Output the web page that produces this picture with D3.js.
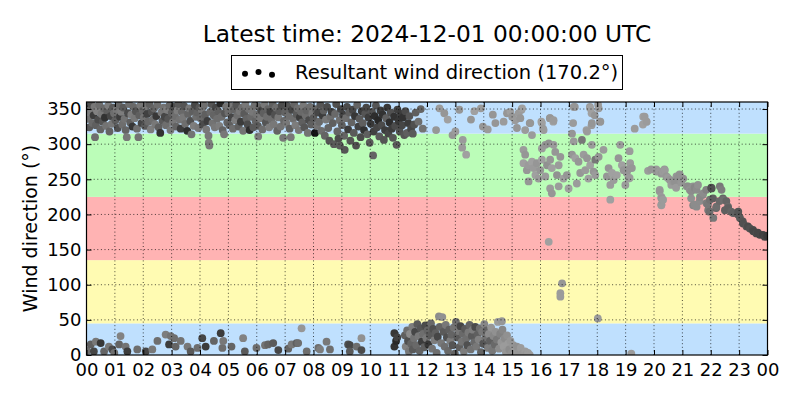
<!DOCTYPE html>
<head>
<meta charset="utf-8">
<title>Resultant wind direction</title>
<script src="https://d3js.org/d3.v7.min.js"></script>
<style>
body { margin: 0; background: #fff; }
text { font-family: "DejaVu Sans", sans-serif; fill: #000; }
.grid line { stroke: #000; stroke-width: 0.7; stroke-dasharray: 1,2.6; }
.axis text { font-size: 18px; }
.axis line { stroke: #000; stroke-width: 1; }
.axis path { display: none; }
</style>
</head>
<body>
<div id="container"></div>
<script>
//--------------------------- DATA ---------------------------//
// each point: [hour of day (UTC), direction in degrees, grey level]
const titleText = "Latest time: 2024-12-01 00:00:00 UTC";
const legendText = "Resultant wind direction (170.2°)";
const dayStart = "2024-11-30T00:00:00Z";
const dayEnd = "2024-12-01T00:00:00Z";
const yTicks = [0, 50, 100, 150, 200, 250, 300, 350];

// sector bands (from, to, colour)
const bandFrom = [0, 45, 135, 225, 315];
const bandTo = [45, 135, 225, 315, 360];
const bandColor = ["#bfe0fe", "#fffbb2", "#ffb3b3", "#bbfdb8", "#bfe0fe"];

const nightHigh = [
[0.03,350,100],[0.07,336,115],[0.1,324,90],[0.14,345,125],[0.17,357,80],[0.21,330,105],[0.25,341,60],[0.28,353,120],[0.3,310,110],[0.33,327,95],[0.37,347,130],[0.41,335,75],[0.45,356,110],[0.49,321,100],[0.53,343,120],[0.57,332,85],[0.61,351,105],[0.65,338,50],[0.69,326,115],[0.73,348,95],[0.77,355,125],[0.81,318,100],[0.85,340,70],[0.89,329,120],[0.93,352,90],[0.97,344,110],
[1.02,334,95],[1.06,349,120],[1.1,323,80],[1.14,356,105],[1.18,339,60],[1.22,346,125],[1.26,328,110],[1.3,352,90],[1.34,336,115],[1.38,320,100],[1.42,310,120],[1.46,344,75],[1.5,357,110],[1.54,331,95],[1.58,342,125],[1.62,325,55],[1.66,353,105],[1.7,337,120],[1.74,347,85],[1.78,322,110],[1.83,310,115],[1.86,341,95],[1.9,355,120],[1.94,330,70],[1.98,348,105],
[2.02,338,115],[2.06,326,90],[2.1,354,120],[2.14,343,65],[2.18,332,105],[2.22,357,95],[2.26,321,125],[2.3,346,80],[2.34,335,110],[2.38,351,100],[2.42,328,120],[2.46,340,55],[2.5,356,110],[2.54,324,95],[2.6,316,50],[2.64,345,120],[2.68,333,90],[2.72,352,115],[2.76,339,70],[2.8,327,110],[2.84,349,125],[2.88,336,85],[2.92,355,105],[2.96,320,120],
[3.0,344,95],[3.04,331,120],[3.08,353,75],[3.12,340,110],[3.16,325,100],[3.2,348,125],[3.24,357,90],[3.28,335,115],[3.32,322,60],[3.36,346,105],[3.4,338,120],[3.44,354,85],[3.48,329,110],[3.55,319,45],[3.58,343,100],[3.62,351,120],[3.66,333,80],[3.7,314,115],[3.74,347,95],[3.78,326,125],[3.82,356,70],[3.86,339,110],[3.9,345,100],[3.94,323,120],[3.98,352,85],
[4.02,337,105],[4.06,349,120],[4.1,328,75],[4.14,355,110],[4.18,342,95],[4.22,321,120],[4.26,333,60],[4.3,312,120],[4.31,302,125],[4.33,298,120],[4.36,346,105],[4.4,357,85],[4.44,330,115],[4.48,341,100],[4.52,324,120],[4.56,352,70],[4.6,336,110],[4.64,347,95],[4.68,326,125],[4.72,358,40],[4.76,339,110],[4.8,320,100],[4.85,314,120],[4.88,344,85],[4.92,353,115],[4.96,331,100],
[5.0,345,110],[5.04,327,95],[5.08,354,120],[5.12,338,70],[5.16,322,110],[5.2,349,100],[5.24,334,125],[5.28,356,85],[5.32,341,110],[5.36,325,95],[5.4,347,120],[5.44,332,60],[5.48,352,110],[5.52,319,115],[5.56,343,90],[5.6,357,120],[5.64,336,100],[5.68,328,75],[5.72,350,115],[5.75,320,45],[5.8,339,105],[5.84,346,120],[5.88,324,90],[5.92,355,110],[5.96,333,100],
[6.0,342,115],[6.04,326,90],[6.05,311,125],[6.08,353,105],[6.12,337,120],[6.16,348,70],[6.2,321,110],[6.24,344,95],[6.28,356,120],[6.32,331,85],[6.36,339,110],[6.4,350,100],[6.44,324,125],[6.48,346,65],[6.52,335,110],[6.56,357,95],[6.6,328,120],[6.64,342,80],[6.68,352,110],[6.72,319,100],[6.76,338,120],[6.8,347,90],[6.84,325,115],[6.88,355,75],[6.93,309,120],[6.96,333,105],
[7.0,345,100],[7.04,330,120],[7.08,354,85],[7.12,340,110],[7.16,322,95],[7.2,310,120],[7.24,349,70],[7.28,336,110],[7.32,357,100],[7.36,327,125],[7.4,343,90],[7.44,351,110],[7.48,320,120],[7.52,338,60],[7.56,346,105],[7.6,331,95],[7.64,355,120],[7.68,324,85],[7.72,341,110],[7.76,348,100],[7.8,316,115],[7.84,334,75],[7.88,353,110],[7.92,328,95],[7.96,344,120],
[8.0,337,90],[8.05,316,20],[8.08,350,100],[8.12,326,115],[8.16,345,70],[8.2,332,105],[8.24,356,85],[8.28,319,110],[8.32,341,60],[8.36,348,95],[8.4,312,100],[8.44,335,120],[8.48,353,75],[8.52,323,100],[8.56,305,85],[8.6,339,110],[8.64,346,65],[8.68,330,95],[8.72,300,90],[8.76,343,105],[8.8,357,80],[8.84,318,100],[8.88,308,75],[8.92,334,110],[8.93,298,90],[8.96,350,70],
[9.0,327,95],[9.04,342,65],[9.08,312,100],[9.1,292,85],[9.14,337,110],[9.18,353,75],[9.22,321,60],[9.26,345,95],[9.3,305,85],[9.34,331,100],[9.38,349,70],[9.42,316,90],[9.46,340,55],[9.5,298,80],[9.54,356,100],[9.58,325,65],[9.62,336,90],[9.66,310,75],[9.7,347,60],[9.74,330,95],[9.78,320,50],[9.82,343,85],[9.86,352,70],[9.9,314,95],[9.94,338,60],[9.98,302,90],
[10.02,329,55],[10.06,346,80],[10.1,284,100],[10.12,318,65],[10.16,340,45],[10.2,355,85],[10.24,324,70],[10.28,334,40],[10.32,311,90],[10.36,348,60],[10.4,327,75],[10.44,342,50],[10.48,306,85],[10.52,320,60],[10.56,337,95],[10.6,352,55],[10.64,315,70],[10.68,331,45],[10.72,345,80],[10.76,322,60],[10.8,309,85],[10.84,339,50],[10.88,326,75],[10.93,299,90],[10.96,349,65],
[11.0,333,55],[11.04,318,80],[11.08,343,60],[11.12,327,70],[11.16,338,50],[11.2,313,85],[11.24,347,75],[11.3,316,95],[11.34,330,60],[11.38,340,85],[11.44,322,70],[11.5,315,90],[11.55,328,80],[11.6,345,95],[11.7,332,110],[11.78,350,100],[11.85,322,115]
];

const nightLow = [
[0.02,6,110],[0.15,15,95],[0.26,5,70],[0.33,19,120],[0.5,17,55],[0.62,5,100],[0.79,12,120],[0.91,8,75],[0.98,3,110],
[1.15,15,100],[1.2,27,130],[1.38,12,115],[1.44,5,60],[1.79,8,110],
[2.09,5,70],[2.32,8,120],[2.5,20,110],[2.79,29,125],[2.97,27,115],[3.09,24,110],[2.91,15,60],[3.14,12,100],[3.32,20,115],[3.56,12,120],[3.67,5,90],[3.91,10,110],
[4.08,24,70],[4.2,12,60],[4.49,20,100],[4.73,31,60],[4.79,10,110],[4.82,20,120],[5.11,12,100],[5.52,24,130],[5.58,5,90],[5.99,10,110],
[6.29,14,115],[6.4,15,100],[6.58,17,90],[6.76,7,70],[7.11,9,100],[7.23,15,120],[7.4,17,95],[7.46,17,110],[7.58,38,150],[7.76,5,110],
[8.17,10,110],[8.23,8,125],[8.46,19,120],[8.58,8,110],[9.22,15,80],[9.28,14,70],[9.28,5,90],[9.52,12,110],[9.69,24,145],[9.69,7,75],
[10.85,31,55],[10.91,20,40],[10.85,12,50],[10.95,25,65]
];

const middayHigh = [
[12.32,320,150],[12.44,351,155],[12.61,344,150],[12.73,335,160],[12.9,313,150],[13.0,318,155],[13.14,349,150],[13.26,306,155],[13.38,285,160],[13.24,295,155],[13.55,335,150],[13.67,347,160],[13.9,351,155],[13.97,325,150],[14.14,321,155],[14.32,342,150],
[14.41,330,150],[14.7,332,155],[14.82,344,150],[14.94,346,160],[15.0,339,150],[15.11,334,155],[15.17,323,150],[15.23,344,155],[15.29,337,150],[15.35,351,160],[15.46,320,155],[15.64,330,150],[15.7,313,155],[16.05,330,160],[16.11,320,155],[16.34,337,150],[16.46,334,155],
[15.33,349,155],[15.62,330,150],[16.03,332,160],[16.09,322,155],[16.33,337,150],[16.45,332,160],[17.15,330,155],[17.21,353,150],[17.74,353,155],[17.8,344,160],[17.91,341,150],[18.03,356,155],[18.09,332,150],[17.8,327,155],[17.62,320,160],[17.17,353,155],[17.11,315,150],[17.64,318,155],[17.75,351,160],[17.81,330,150],[18.05,351,155],[18.11,332,150],
[19.32,322,155],[19.62,339,160],[19.74,332,155],[19.61,328,160],[19.67,339,155],[19.73,332,160]
];

const middayLow = [
[11.22,28,95],[11.25,12,130],[11.3,35,110],[11.33,20,80],[11.36,5,120],[11.4,30,140],[11.44,16,100],[11.48,40,125],[11.5,8,90],[11.54,24,115],
[11.58,33,70],[11.62,14,105],[11.66,44,90],[11.7,27,120],[11.74,6,100],[11.78,38,85],[11.82,19,60],[11.86,30,110],[11.9,11,95],[11.94,42,75],[11.98,24,120],
[12.02,35,100],[12.05,15,55],[12.1,28,90],[12.14,45,105],[12.18,9,115],[12.22,37,80],[12.26,21,125],[12.3,31,95],[12.34,3,110],[12.38,26,70],[12.42,55,140],[12.45,40,100],[12.5,17,120],[12.54,54,145],[12.58,33,90],[12.62,12,110],[12.66,43,120],[12.7,25,80],[12.74,6,105],[12.78,36,95],[12.82,20,125],[12.86,29,100],[12.9,14,85],[12.94,39,115],[12.98,2,100],
[13.02,47,110],[13.06,25,90],[13.1,34,120],[13.14,11,95],[13.18,41,70],[13.22,19,115],[13.26,30,105],[13.3,5,125],[13.34,37,90],[13.38,23,110],[13.42,14,80],[13.46,32,120],[13.5,43,100],[13.54,8,115],[13.58,27,90],[13.62,36,125],[13.66,18,105],[13.7,40,75],[13.74,12,120],[13.78,29,95],[13.82,22,130],[13.86,38,110],[13.9,4,100],[13.94,33,120],[13.98,16,85],
[14.02,44,135],[14.06,25,115],[14.1,35,100],[14.14,10,125],[14.18,30,140],[14.22,20,95],[14.26,39,150],[14.3,6,120],[14.34,27,135],[14.38,15,105],[14.42,33,145],[14.46,22,120],[14.5,47,155],[14.54,9,140],[14.58,30,130],[14.62,18,150],[14.64,48,150],[14.66,36,135],[14.7,12,155],[14.74,24,140],[14.78,4,150],[14.82,28,145],[14.86,16,155],[14.9,8,140],[14.94,20,150],[14.98,3,145],
[15.04,14,150],[15.1,6,155],[15.17,12,145],[15.22,3,150],[15.3,10,155],[15.36,2,150],[15.46,5,155],[15.5,1,150],[15.56,3,155],[15.62,0,155],[19.2,2,155]
];

const afternoon = [
[15.4,292,155],[15.46,285,150],[15.4,273,160],[15.58,270,155],[15.52,263,150],[15.7,275,160],[15.76,266,155],[15.87,273,150],[15.82,256,160],[15.93,251,155],[15.58,247,150],
[16.05,294,155],[16.17,299,150],[16.29,301,145],[16.46,299,155],[16.34,278,150],[16.4,266,160],[16.23,270,145],[16.64,270,155],[16.7,282,150],[16.81,251,160],[16.58,256,145],[16.34,237,155],[16.4,230,150],[16.64,240,155],[16.05,278,160],[15.99,263,150],[16.17,254,155],[16.52,289,150],
[17.17,304,155],[17.11,285,150],[17.23,280,160],[17.34,275,150],[17.46,306,120],[17.52,285,155],[17.64,280,150],[17.75,270,160],[17.58,263,155],[17.4,259,150],[17.28,244,155],[16.99,237,160],[16.93,256,150],[17.81,299,155],[17.93,278,120],[17.87,261,150],[17.69,251,160],[17.93,256,155],[18.05,282,150],
[18.22,292,155],[18.4,266,150],[18.52,259,160],[18.58,249,155],[18.75,280,150],[18.81,299,155],[18.87,270,160],[18.93,263,150],[18.99,242,155],[19.04,259,150],[19.1,251,160],[19.16,273,155],[19.22,266,150],[18.46,242,155],[18.34,254,150],[18.69,256,160],
[19.14,290,155],[19.08,264,150],[19.14,252,155],
[18.46,221,160],[16.29,161,160],[16.76,102,150],[16.7,88,155],[16.7,83,155],[18.02,52,155]
];

const evening = [
[19.79,262,155],[19.9,264,150],[20.08,264,155],[20.09,261,150],[20.2,261,155],[20.26,258,150],[20.31,261,155],[20.37,264,150],[20.38,263,155],[20.44,254,150],[20.49,252,155],[20.56,249,150],[20.61,242,155],[20.68,247,150],[20.73,247,145],[20.79,254,150],[20.78,238,155],[20.84,252,145],[20.9,257,150],[20.91,256,145],[20.96,245,150],[21.03,251,145],
[20.2,235,155],[20.2,233,150],[20.26,225,155],[20.26,223,150],[20.32,221,155],[20.26,214,150],[20.26,213,155],
[21.15,240,145],[21.2,240,140],[21.26,235,145],[21.31,233,140],[21.38,240,145],[21.43,238,135],[21.5,235,140],[21.55,242,145],[21.62,225,135],[21.61,219,140],[21.31,223,145],[21.43,214,140],[21.38,213,135],[21.5,211,140],[21.72,228,135],[21.73,230,140],[21.84,235,130],[21.85,216,125],[21.9,214,120],[21.97,221,115],[21.96,204,110],[21.91,206,120],
[22.02,238,75],[22.03,237,80],[22.08,223,95],[22.09,195,120],[22.19,209,100],[22.2,211,110],[22.31,219,105],[22.32,240,120],[22.38,235,125],[22.43,223,100],[22.44,221,110],[22.5,206,95],[22.55,219,100],[22.61,211,105],[22.61,209,95],[22.72,204,100],[22.79,202,95],[22.96,200,90],[22.97,204,85],
[23.03,195,90],[23.13,190,85],[23.14,187,80],[23.26,183,85],[23.31,183,75],[23.38,180,80],[23.49,178,75],[23.5,176,70],[23.61,173,75],[23.66,174,70],[23.73,171,70],[23.84,171,65],[23.91,168,70],[23.96,169,65],[24.0,170,60]
];

//------------------------- SVG SETUP -------------------------//
const width = 800;
const height = 400;
const plot = { left: 86.5, right: 767.5, top: 102, bottom: 355 };

const svg = d3.select("#container").append("svg")
    .attr("width", width)
    .attr("height", height);

const t0 = new Date(dayStart);
const t1 = new Date(dayEnd);
const xScale = d3.scaleUtc().domain([t0, t1]).range([plot.left, plot.right]);
const yScale = d3.scaleLinear().domain([0, 360]).range([plot.bottom, plot.top]);
const hourToDate = h => new Date(t0.getTime() + h * 3600 * 1000);
const xTicks = d3.utcHour.every(1).range(t0, new Date(t1.getTime() + 1));

svg.append("clipPath").attr("id", "plot-clip")
  .append("rect")
    .attr("x", plot.left).attr("y", plot.top)
    .attr("width", plot.right - plot.left).attr("height", plot.bottom - plot.top);

//--------------------------- BANDS ---------------------------//
svg.append("g").selectAll("rect")
    .data(bandFrom)
    .enter().append("rect")
    .attr("x", plot.left)
    .attr("width", plot.right - plot.left)
    .attr("y", (d, i) => yScale(bandTo[i]))
    .attr("height", (d, i) => yScale(d) - yScale(bandTo[i]))
    .attr("fill", (d, i) => bandColor[i]);

//--------------------------- POINTS --------------------------//
const points = [].concat(nightHigh, nightLow, middayHigh, middayLow, afternoon, evening)
    .sort((a, b) => a[0] - b[0]);

svg.append("g")
    .attr("clip-path", "url(#plot-clip)")
  .selectAll("circle")
    .data(points)
    .enter().append("circle")
    .attr("cx", d => xScale(hourToDate(d[0])))
    .attr("cy", d => yScale(d[1]))
    .attr("r", 3.9)
    .attr("fill", d => d3.rgb(d[2], d[2], d[2]));

//---------------------------- GRID ---------------------------//
const grid = svg.append("g").attr("class", "grid");
grid.selectAll(".gx").data(xTicks.slice(1, -1)).enter().append("line")
    .attr("x1", d => xScale(d)).attr("x2", d => xScale(d))
    .attr("y1", plot.top).attr("y2", plot.bottom);
grid.selectAll(".gy").data(yTicks.slice(1)).enter().append("line")
    .attr("x1", plot.left).attr("x2", plot.right)
    .attr("y1", d => yScale(d)).attr("y2", d => yScale(d));

//---------------------------- AXES ---------------------------//
const tick = 5;
svg.append("g").attr("class", "axis")
    .attr("transform", "translate(0," + plot.bottom + ")")
    .call(d3.axisBottom(xScale).tickValues(xTicks).tickFormat(d3.utcFormat("%H"))
        .tickSize(-tick).tickPadding(8.5));
svg.append("g").attr("class", "axis")
    .attr("transform", "translate(0," + plot.top + ")")
    .call(d3.axisTop(xScale).tickValues(xTicks).tickFormat("").tickSize(-tick));
svg.append("g").attr("class", "axis")
    .attr("transform", "translate(" + plot.left + ",0)")
    .call(d3.axisLeft(yScale).tickValues(yTicks).tickSize(-tick).tickPadding(5));
svg.append("g").attr("class", "axis")
    .attr("transform", "translate(" + plot.right + ",0)")
    .call(d3.axisRight(yScale).tickValues(yTicks).tickFormat("").tickSize(-tick));

svg.append("rect")
    .attr("x", plot.left).attr("y", plot.top)
    .attr("width", plot.right - plot.left).attr("height", plot.bottom - plot.top)
    .attr("fill", "none").attr("stroke", "#000").attr("stroke-width", 1.2);

svg.append("text")
    .attr("transform", "translate(30," + ((plot.top + plot.bottom) / 2) + ") rotate(-90)")
    .attr("text-anchor", "middle")
    .attr("dy", "0.35em")
    .style("font-size", "19px")
    .text("Wind direction (°)");

//--------------------------- TITLE ---------------------------//
svg.append("text")
    .attr("x", (plot.left + plot.right) / 2)
    .attr("y", 42)
    .attr("text-anchor", "middle")
    .style("font-size", "23.3px")
    .text(titleText);

//--------------------------- LEGEND --------------------------//
const legend = svg.append("g");
legend.append("rect")
    .attr("x", 231.5).attr("y", 55.5).attr("width", 391).attr("height", 34)
    .attr("fill", "#fff").attr("stroke", "#000").attr("stroke-width", 1);
legend.selectAll("circle")
    .data([0.375, 0.5, 0.3125])
    .enter().append("circle")
    .attr("cx", (d, i) => 245 + i * 13.5)
    .attr("cy", d => 79 - d * 14)
    .attr("r", 3)
    .attr("fill", "#000");
legend.append("text")
    .attr("x", 295).attr("y", 79)
    .style("font-size", "19.5px")
    .text(legendText);
</script>
</body>
